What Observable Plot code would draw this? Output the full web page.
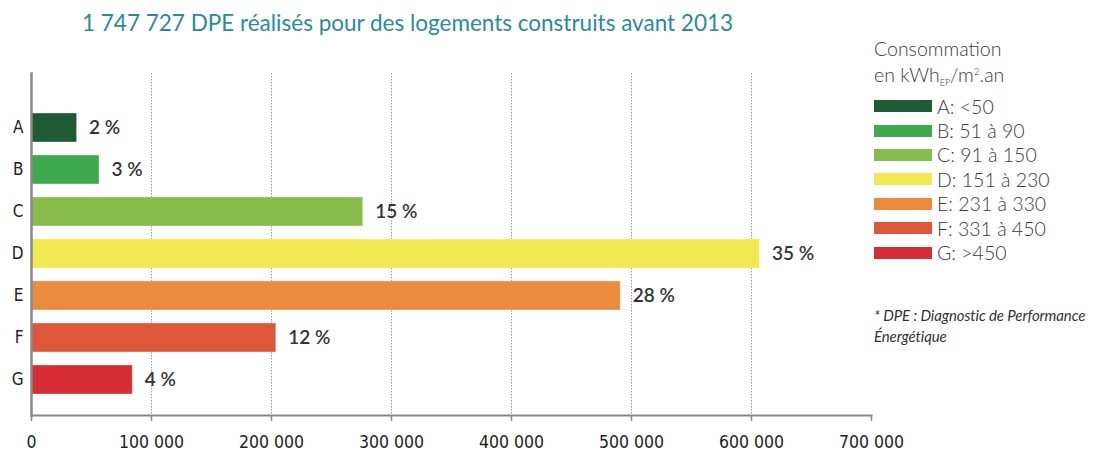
<!DOCTYPE html>
<html>
<head>
<meta charset="utf-8">
<script src="https://cdn.jsdelivr.net/npm/d3@7"></script>
<script src="https://cdn.jsdelivr.net/npm/@observablehq/plot@0.6"></script>
<style>
  html, body { margin: 0; padding: 0; background: #fff; }
  body { width: 1093px; height: 452px; position: relative; overflow: hidden; font-family: Lato, "Open Sans", sans-serif; }
  #title { position: absolute; left: 82px; top: 9px; font-size: 22.5px; color: #2a8a9e; white-space: nowrap; }
  #chart { position: absolute; left: 0; top: 60px; }
  #legend { position: absolute; left: 874px; top: 37px; color: #3c3c3c; font-size: 19.5px; }
  #legend .head { line-height: 23px; margin-bottom: 0px; font-weight: 300; }
  #legend .row { display: flex; align-items: center; height: 24.4px; font-weight: 300; }
  #legend .sw { width: 58px; height: 12px; margin-right: 5px; }
  #legend sub { font-size: 9px; vertical-align: -4px; }
  #legend sup { font-size: 10px; vertical-align: 7px; }
  #note { position: absolute; left: 874px; top: 305px; font-size: 15px; font-style: italic; color: #333; line-height: 21px; letter-spacing: -0.1px; }
</style>
</head>
<body>
<div id="title"></div>
<div id="chart"></div>
<div id="legend"></div>
<div id="note">* DPE&#8239;: Diagnostic de Performance<br>Énergétique</div>
<script>
const titleText = "1 747 727 DPE réalisés pour des logements construits avant 2013";
const classes = ["A", "B", "C", "D", "E", "F", "G"];
const counts = [38000, 56700, 276400, 607000, 491000, 204000, 84400];
const percents = ["2 %", "3 %", "15 %", "35 %", "28 %", "12 %", "4 %"];
const legendLabels = ["A: <50", "B: 51 à 90", "C: 91 à 150", "D: 151 à 230", "E: 231 à 330", "F: 331 à 450", "G: >450"];
const xTicks = [0, 100000, 200000, 300000, 400000, 500000, 600000, 700000];
const gridTicks = [100000, 200000, 300000, 400000, 500000, 600000];
const palette = ["#1f5b35", "#3eaa4d", "#88bd4b", "#f2e851", "#eb8b3e", "#df573b", "#d62c34"];

document.getElementById("title").textContent = titleText;

const data = classes.map((c, i) => ({cls: c, value: counts[i], pct: percents[i]}));
const fmt = d => d3.format(",")(d).replace(/,/g, " ");

const plot = Plot.plot({
  width: 920,
  height: 392,
  marginTop: 13,
  marginBottom: 37,
  marginLeft: 31,
  marginRight: 49,
  style: {fontFamily: "'Liberation Sans Narrow', 'DejaVu Sans Condensed', sans-serif", background: "transparent", overflow: "visible"},
  x: {domain: [0, 700000]},
  y: {domain: classes, paddingInner: 0.3, paddingOuter: 0.15, insetTop: 31.7, insetBottom: 11.7},
  color: {domain: classes, range: palette},
  marks: [
    Plot.ruleX(gridTicks, {stroke: "#999", strokeDasharray: "1.5,1.5", strokeWidth: 1}),
    Plot.barX(data, {x: "value", y: "cls", fill: "cls", stroke: "#fff", strokeOpacity: 0.35, strokeWidth: 1}),
    Plot.text(data, {x: "value", y: "cls", text: "pct", textAnchor: "start", dx: 12, fontSize: 19, fontWeight: 600, fill: "#333", fontFamily: "Lato, sans-serif"}),
    Plot.axisX({ticks: xTicks, tickFormat: fmt, tickSize: 6, tickPadding: 14, fontSize: 17.5, stroke: "#888", strokeWidth: 1.5, color: "#222", label: null}),
    Plot.frame({anchor: "bottom", stroke: "#888", strokeWidth: 2}),
    Plot.axisY({tickSize: 0, tickPadding: 8, fontSize: 17, color: "#222", label: null}),
    Plot.frame({anchor: "left", stroke: "#888", strokeWidth: 2.5})
  ]
});
document.getElementById("chart").appendChild(plot);

const leg = document.getElementById("legend");
const head = document.createElement("div");
head.className = "head";
head.innerHTML = "Consommation<br>en kWh<sub>EP</sub>/m<sup>2</sup>.an";
leg.appendChild(head);
legendLabels.forEach((t, i) => {
  const row = document.createElement("div");
  row.className = "row";
  const sw = document.createElement("div");
  sw.className = "sw";
  sw.style.background = palette[i];
  const tx = document.createElement("span");
  tx.textContent = t;
  row.appendChild(sw);
  row.appendChild(tx);
  leg.appendChild(row);
});
</script>
</body>
</html>
